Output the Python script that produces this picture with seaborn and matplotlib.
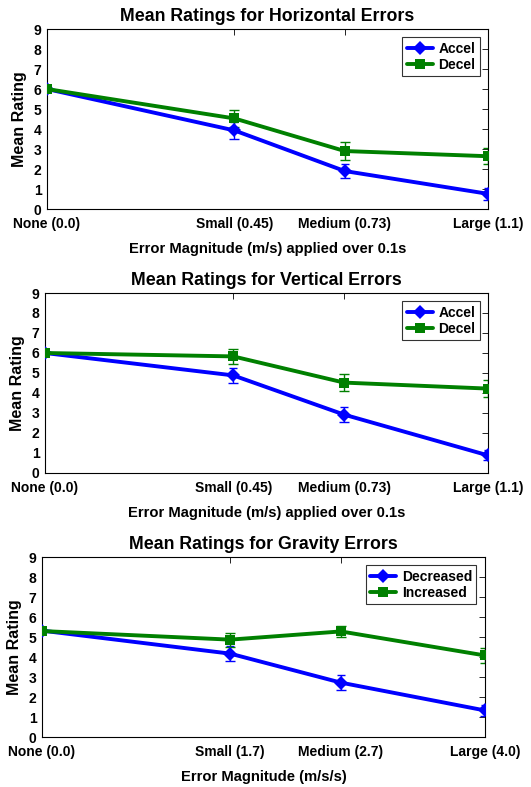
import matplotlib
matplotlib.use("Agg")
import matplotlib.pyplot as plt
import seaborn as sns
import pandas as pd

sns.set_theme(style="white")
plt.rcParams['font.family'] = ['Liberation Sans', 'DejaVu Sans']
plt.rcParams['font.weight'] = 'bold'
plt.rcParams['text.color'] = 'black'
plt.rcParams['axes.labelcolor'] = 'black'
plt.rcParams['xtick.color'] = 'black'
plt.rcParams['ytick.color'] = 'black'

# ---- data ----
x_pos = [0.0, 1.7, 2.7, 4.0]
labels_h = ["None (0.0)", "Small (0.45)", "Medium (0.73)", "Large (1.1)"]
labels_v = ["None (0.0)", "Small (0.45)", "Medium (0.73)", "Large (1.1)"]
labels_g = ["None (0.0)", "Small (1.7)", "Medium (2.7)", "Large (4.0)"]

h_accel = [6.0, 3.93, 1.90, 0.76]
h_accel_err = [0.0, 0.42, 0.35, 0.29]
h_decel = [6.0, 4.53, 2.90, 2.64]
h_decel_err = [0.0, 0.42, 0.44, 0.39]

v_accel = [6.0, 4.88, 2.92, 0.88]
v_accel_err = [0.0, 0.37, 0.39, 0.25]
v_decel = [6.0, 5.83, 4.52, 4.22]
v_decel_err = [0.0, 0.39, 0.43, 0.42]

g_dec = [5.32, 4.17, 2.72, 1.33]
g_dec_err = [0.0, 0.36, 0.38, 0.27]
g_inc = [5.30, 4.87, 5.28, 4.08]
g_inc_err = [0.0, 0.35, 0.28, 0.38]

panels = [
    dict(title="Mean Ratings for Horizontal Errors", labels=labels_h,
         xlabel="Error Magnitude (m/s) applied over 0.1s",
         series=[("Accel", h_accel, h_accel_err), ("Decel", h_decel, h_decel_err)],
         rect=[0.0885, 0.7344, 0.8305, 0.2287]),
    dict(title="Mean Ratings for Vertical Errors", labels=labels_v,
         xlabel="Error Magnitude (m/s) applied over 0.1s",
         series=[("Accel", v_accel, v_accel_err), ("Decel", v_decel, v_decel_err)],
         rect=[0.0847, 0.3990, 0.8343, 0.2287]),
    dict(title="Mean Ratings for Gravity Errors", labels=labels_g,
         xlabel="Error Magnitude (m/s/s)",
         series=[("Decreased", g_dec, g_dec_err), ("Increased", g_inc, g_inc_err)],
         rect=[0.0790, 0.0635, 0.8340, 0.2287]),
]

colors = [(0, 0, 1), (0, 0.5, 0)]
markers = ['D', 's']
msizes = [7, 6]

fig = plt.figure(figsize=(5.31, 7.87), dpi=100)

for p in panels:
    ax = fig.add_axes(p["rect"])
    rows = []
    for name, vals, errs in p["series"]:
        for x, v, e in zip(x_pos, vals, errs):
            rows.append(dict(x=x, y=v, err=e, series=name))
    df = pd.DataFrame(rows)
    names = [s[0] for s in p["series"]]
    for i, name in enumerate(names):
        sub = df[df.series == name]
        ax.errorbar(sub.x, sub.y, yerr=sub.err, fmt='none', ecolor=colors[i],
                    elinewidth=1.0, capsize=3.5, capthick=1.0, zorder=2)
    sns.lineplot(data=df, x="x", y="y", hue="series", style="series",
                 hue_order=names, style_order=names,
                 palette=dict(zip(names, colors)),
                 markers=dict(zip(names, markers)), dashes=False,
                 linewidth=2.8, markersize=7, markeredgewidth=0,
                 ax=ax, zorder=3)
    for line, ms in zip(ax.get_lines(), msizes):
        line.set_markersize(ms)
    ax.set_xlim(0, 4.0)
    ax.set_ylim(0, 9)
    ax.set_yticks(range(0, 10))
    ax.set_xticks(x_pos)
    ax.set_xticklabels(p["labels"], fontsize=10, fontweight='bold', color='black')
    ax.set_yticklabels([str(i) for i in range(10)], fontsize=10, fontweight='bold',
                       color='black')
    ax.tick_params(axis='x', direction='in', top=True, length=4, width=0.6,
                   color='black', pad=6)
    ax.tick_params(axis='y', direction='in', right=True, length=4, width=0.6,
                   color='black', pad=4)
    for sp in ax.spines.values():
        sp.set_color('black')
        sp.set_linewidth(0.8)
    ax.set_title(p["title"], fontsize=12.8, fontweight='bold', pad=6, color='black')
    ax.set_xlabel(p["xlabel"], fontsize=10.6, fontweight='bold', labelpad=8,
                  color='black')
    ax.set_ylabel("Mean Rating", fontsize=11.5, fontweight='bold', labelpad=5,
                  color='black')
    leg = ax.legend(loc='upper right', fontsize=10, frameon=True, fancybox=False,
                    edgecolor='black', borderaxespad=0.6, handlelength=1.9,
                    borderpad=0.3, labelspacing=0.2, handletextpad=0.4)
    leg.get_frame().set_linewidth(0.8)
    for t in leg.get_texts():
        t.set_fontweight('bold')
        t.set_color('black')
    for h in leg.get_lines():
        h.set_linewidth(2.8)

fig.savefig("out.png", dpi=100, facecolor='white')
